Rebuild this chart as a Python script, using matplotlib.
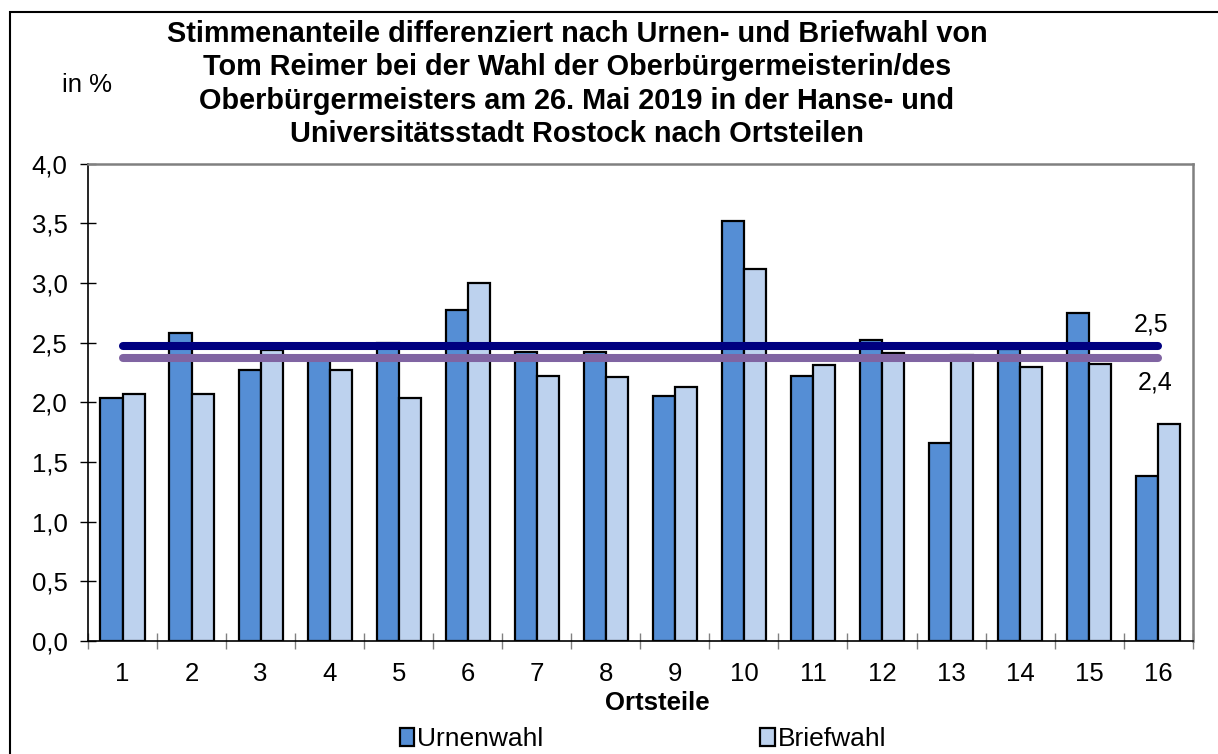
import numpy as np
import matplotlib.pyplot as plt
from matplotlib.patches import Rectangle

plt.rcParams['font.family'] = ['Liberation Sans', 'DejaVu Sans']

# Ortsteile 1..16
ortsteile = [str(i) for i in range(1, 17)]
urnenwahl = [2.04, 2.58, 2.27, 2.38, 2.50, 2.77, 2.42, 2.42,
             2.05, 3.52, 2.22, 2.52, 1.66, 2.45, 2.75, 1.38]
briefwahl = [2.07, 2.07, 2.44, 2.27, 2.04, 3.00, 2.22, 2.21,
             2.13, 3.12, 2.31, 2.41, 2.40, 2.30, 2.32, 1.82]
mittel_urne = 2.47   # Gesamtwert Urnenwahl
mittel_brief = 2.37  # Gesamtwert Briefwahl

title = ('Stimmenanteile differenziert nach Urnen- und Briefwahl von\n'
         'Tom Reimer bei der Wahl der Oberbürgermeisterin/des\n'
         'Oberbürgermeisters am 26. Mai 2019 in der Hanse- und\n'
         'Universitätsstadt Rostock nach Ortsteilen')

fig = plt.figure(figsize=(12.18, 7.54), dpi=100)
ax = fig.add_axes([88 / 1218, 113 / 754, (1192.7 - 88) / 1218, (641 - 163.7) / 754])

x = np.arange(1, len(ortsteile) + 1)
w = 0.32
ax.bar(x - w / 2, urnenwahl, w, color='#558ED5', edgecolor='black', linewidth=1.6,
       label='Urnenwahl', zorder=2)
ax.bar(x + w / 2, briefwahl, w, color='#BDD2EE', edgecolor='black', linewidth=1.6,
       label='Briefwahl', zorder=2)

ax.plot(x, [mittel_urne] * len(x), color='#000080', lw=5.8, solid_capstyle='round', zorder=3)
ax.plot(x, [mittel_brief] * len(x), color='#8064A2', lw=5.8, solid_capstyle='round', zorder=3)
ax.text(x[-1] - 0.1, mittel_urne + 0.08, f'{mittel_urne:.1f}'.replace('.', ','),
        fontsize=18, ha='center', va='bottom')
ax.text(x[-1] - 0.05, mittel_brief - 0.1, f'{mittel_brief:.1f}'.replace('.', ','),
        fontsize=18, ha='center', va='top')

ax.set_xlim(0.5, 16.5)
ax.set_ylim(0, 4)
ax.set_yticks(np.arange(0, 4.01, 0.5))
ax.set_yticklabels([f'{v:.1f}'.replace('.', ',') for v in np.arange(0, 4.01, 0.5)])
ax.tick_params(axis='y', direction='inout', length=11.5, width=1, color='black',
               labelsize=18.5, pad=9)

ax.set_xticks(np.arange(0.5, 16.6, 1))
ax.set_xticklabels([])
ax.set_xticks(x, minor=True)
ax.set_xticklabels(ortsteile, minor=True)
ax.tick_params(axis='x', which='major', direction='inout', length=11.5, width=1,
               color='#808080')
ax.tick_params(axis='x', which='minor', length=0, labelsize=18.5, pad=15)
ax.set_xlabel('Ortsteile', fontsize=18.5, fontweight='bold')
ax.xaxis.set_label_coords(0.515, -0.105)

for s in ['top', 'right']:
    ax.spines[s].set_color('#808080')
    ax.spines[s].set_linewidth(1.8)
ax.spines['left'].set_color('black')
ax.spines['bottom'].set_color('black')
ax.spines['left'].set_linewidth(1.2)
ax.spines['bottom'].set_linewidth(1.2)

fig.text(577 / 1218, 1 - 84 / 754, title, fontsize=20.8, fontweight='bold',
         ha='center', va='center', linespacing=1.25)
fig.text(62 / 1218, 1 - 85 / 754, 'in %', fontsize=18.5, ha='left', va='center')

leg = fig.legend(loc='center', bbox_to_anchor=(643 / 1218, 1 - 739 / 754), ncol=2,
                 frameon=False, fontsize=19, handlelength=0.55, handleheight=0.65,
                 handletextpad=0.12, columnspacing=8.2, borderpad=0)

fig.patches.append(Rectangle((10 / 1218, -0.1), 1.2, 1.1 - 12 / 754, transform=fig.transFigure,
                             fill=False, edgecolor='black', linewidth=1.5))

fig.savefig('out.png', dpi=100)
